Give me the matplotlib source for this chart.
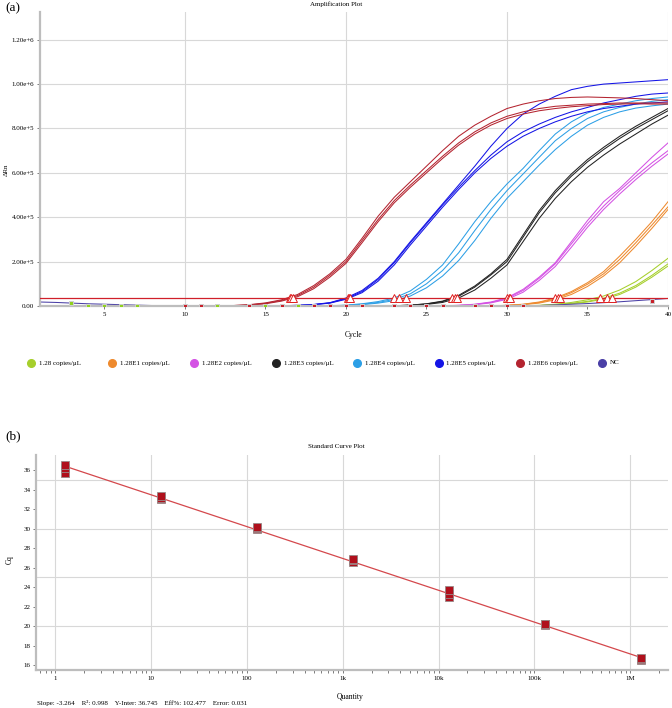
import numpy as np
import matplotlib
matplotlib.use("Agg")
from matplotlib import pyplot as plt
from matplotlib.lines import Line2D

plt.rcParams['font.family'] = ['Liberation Serif', 'DejaVu Serif']

# ---------------- data ----------------
cycles = np.arange(1, 41)

group_labels = ["1.28 copies/\u03bcL", "1.28E1 copies/\u03bcL", "1.28E2 copies/\u03bcL", "1.28E3 copies/\u03bcL",
                "1.28E4 copies/\u03bcL", "1.28E5 copies/\u03bcL", "1.28E6 copies/\u03bcL", "NC"]
group_colors = ["#a6cf2c", "#ee8a2e", "#d452e4", "#222222", "#2c9fe6", "#1414e6", "#b42430", "#4a3fa6"]

# delta Rn in units of 1e5, cycles 1..40, three replicates per standard
e0 = [[0]*30 + [0.01, 0.03, 0.08, 0.16, 0.28, 0.45, 0.72, 1.1, 1.6, 2.15],
      [0]*31 + [0.02, 0.06, 0.12, 0.21, 0.35, 0.58, 0.92, 1.38, 1.9],
      [0]*31 + [0.02, 0.05, 0.10, 0.18, 0.31, 0.52, 0.85, 1.3, 1.8]]
e1 = [[0]*28 + [0.01, 0.03, 0.08, 0.18, 0.36, 0.65, 1.05, 1.55, 2.25, 3.0, 3.8, 4.7],
      [0]*29 + [0.03, 0.07, 0.16, 0.32, 0.60, 0.98, 1.45, 2.1, 2.85, 3.65, 4.47],
      [0]*29 + [0.02, 0.06, 0.13, 0.28, 0.52, 0.88, 1.35, 1.95, 2.7, 3.5, 4.35]]
e2 = [[0]*25 + [0.01, 0.03, 0.08, 0.18, 0.37, 0.75, 1.3, 1.95, 2.9, 3.85, 4.7, 5.3, 6.0, 6.7, 7.35],
      [0]*26 + [0.03, 0.07, 0.16, 0.34, 0.70, 1.25, 1.9, 2.8, 3.7, 4.5, 5.2, 5.85, 6.45, 7.0],
      [0]*26 + [0.02, 0.06, 0.14, 0.30, 0.62, 1.15, 1.78, 2.65, 3.55, 4.35, 5.05, 5.7, 6.3, 6.85]]
e3 = [[0]*22 + [0.01, 0.04, 0.10, 0.22, 0.48, 0.9, 1.45, 2.1, 3.2, 4.3, 5.2, 5.95, 6.6, 7.15, 7.65, 8.1, 8.5, 8.9],
      [0]*22 + [0.01, 0.04, 0.09, 0.20, 0.44, 0.85, 1.4, 2.0, 3.1, 4.2, 5.1, 5.85, 6.5, 7.05, 7.55, 8.0, 8.4, 8.8],
      [0]*23 + [0.03, 0.07, 0.16, 0.36, 0.72, 1.25, 1.85, 2.9, 3.95, 4.85, 5.6, 6.25, 6.8, 7.3, 7.75, 8.2, 8.6]]
e4 = [[0]*18 + [0.01, 0.04, 0.10, 0.20, 0.36, 0.68, 1.2, 1.85, 2.8, 3.8, 4.7, 5.5, 6.2, 7.0, 7.75, 8.3, 8.7, 8.95, 9.1, 9.25, 9.35, 9.42],
      [0]*19 + [0.03, 0.08, 0.16, 0.30, 0.55, 1.0, 1.6, 2.4, 3.4, 4.35, 5.2, 5.95, 6.7, 7.45, 8.0, 8.45, 8.75, 8.95, 9.1, 9.22, 9.3],
      [0]*19 + [0.02, 0.06, 0.13, 0.24, 0.45, 0.82, 1.35, 2.05, 2.95, 3.95, 4.85, 5.6, 6.35, 7.05, 7.65, 8.15, 8.5, 8.75, 8.92, 9.02, 9.1]]
e5 = [[0]*15 + [0.01, 0.03, 0.07, 0.15, 0.36, 0.7, 1.25, 2.0, 2.9, 3.75, 4.6, 5.45, 6.3, 7.2, 8.0, 8.65, 9.1, 9.45, 9.75, 9.9, 10.0, 10.05, 10.1, 10.15, 10.2],
      [0]*15 + [0.01, 0.03, 0.06, 0.14, 0.33, 0.65, 1.2, 1.95, 2.85, 3.7, 4.55, 5.35, 6.1, 6.8, 7.4, 7.85, 8.2, 8.5, 8.75, 8.95, 9.15, 9.3, 9.45, 9.55, 9.6],
      [0]*15 + [0.01, 0.02, 0.06, 0.13, 0.30, 0.6, 1.12, 1.85, 2.75, 3.6, 4.45, 5.25, 6.0, 6.65, 7.2, 7.65, 8.0, 8.3, 8.55, 8.75, 8.9, 9.0, 9.1, 9.15, 9.2]]
e6 = [[0]*12 + [0.02, 0.06, 0.14, 0.28, 0.52, 0.92, 1.45, 2.1, 3.05, 4.05, 4.9, 5.6, 6.3, 7.0, 7.65, 8.15, 8.55, 8.9, 9.1, 9.25, 9.35, 9.4, 9.42, 9.4, 9.38, 9.35, 9.3, 9.25],
      [0]*12 + [0.02, 0.05, 0.12, 0.25, 0.47, 0.85, 1.38, 2.0, 2.95, 3.9, 4.75, 5.45, 6.1, 6.75, 7.35, 7.85, 8.25, 8.55, 8.75, 8.9, 9.0, 9.05, 9.1, 9.12, 9.15, 9.15, 9.15, 9.15],
      [0]*12 + [0.01, 0.04, 0.10, 0.22, 0.42, 0.78, 1.3, 1.92, 2.85, 3.8, 4.65, 5.35, 6.0, 6.65, 7.25, 7.75, 8.15, 8.45, 8.65, 8.8, 8.9, 8.98, 9.03, 9.08, 9.1, 9.12, 9.1, 9.1]]
nc = [[0.18, 0.16, 0.13, 0.10, 0.08, 0.06, 0.04, 0.02, 0.01] + [0]*22 +
       [0.02, 0.05, 0.08, 0.11, 0.15, 0.19, 0.24, 0.29, 0.34]]
curves = [e0, e1, e2, e3, e4, e5, e6, nc]

threshold = 0.35  # x1e5

# Cq per standard (three replicates), shared by both panels
quantity = [1.28, 12.8, 128, 1280, 12800, 128000, 1280000]
cq = [[35.75, 36.2, 36.5],
      [33.0, 33.15, 33.3],
      [30.0, 30.1, 30.2],
      [26.6, 26.75, 26.9],
      [23.0, 23.3, 23.75],
      [20.1, 20.2, 20.25],
      [16.5, 16.6, 16.7]]

# small baseline markers along the x axis
base_cycles = [2.9, 4, 5, 6, 7, 10, 11, 12, 14, 15, 16, 17, 18, 19, 20, 21, 23, 24, 25, 26, 28, 29, 30, 31, 39]
base_values = [0.12, 0, 0, 0, 0, 0, 0, 0, 0, 0, 0, 0, 0, 0, 0, 0, 0, 0, 0, 0, 0, 0, 0, 0, 0.22]
base_colors = ["#8fd11e", "#8fd11e", "#8fd11e", "#8fd11e", "#8fd11e", "#c8202a", "#c8202a", "#8fd11e",
               "#c8202a", "#8fd11e", "#c8202a", "#8fd11e", "#c8202a", "#c8202a", "#c8202a", "#c8202a",
               "#c8202a", "#c8202a", "#c8202a", "#c8202a", "#c8202a", "#c8202a", "#c8202a", "#c8202a", "#c8202a"]

a_yticks = [0, 2, 4, 6, 8, 10, 12]
a_ylabels = ["0.00", "2.00e+5", "4.00e+5", "6.00e+5", "8.00e+5", "1.00e+6", "1.20e+6"]
a_xticks = [5, 10, 15, 20, 25, 30, 35, 40]

b_xticks = [1, 10, 100, 1000, 10000, 100000, 1000000]
b_xlabels = ["1", "10", "100", "1k", "10k", "100k", "1M"]
b_yticks = [16, 18, 20, 22, 24, 26, 28, 30, 32, 34, 36]

slope, intercept = -3.264, 36.745
stats_text = "Slope: -3.264    R\u00b2: 0.998    Y-Inter: 36.745    Eff%: 102.477    Error: 0.031"

# ---------------- figure ----------------
fig = plt.figure(figsize=(6.72, 7.08), dpi=100)
grid_c = "#d8d8d8"
spine_c = "#bdbdbd"


def style_axes(ax):
	for s in ["top", "right"]:
		ax.spines[s].set_visible(False)
	for s in ["left", "bottom"]:
		ax.spines[s].set_color(spine_c)
		ax.spines[s].set_linewidth(1.6)
	ax.tick_params(axis="both", which="both", labelsize=5, color="#666666", width=0.6, length=2.5, pad=1.5)


# panel (a)
ax1 = fig.add_axes([40/672, 1-306/708, 628/672, 294/708])
style_axes(ax1)
for v in [10, 20, 30, 40]:
	ax1.axvline(v, color=grid_c, lw=0.8, zorder=0)
for v in a_yticks[1:]:
	ax1.axhline(v, color=grid_c, lw=0.8, zorder=0)
ax1.axhline(threshold, color="#d0202a", lw=0.9, zorder=3)

for reps, col in zip(curves, group_colors):
	for r in reps:
		ax1.plot(cycles, r, color=col, lw=0.75, zorder=2)

ax1.plot(np.ravel(cq), [threshold]*np.size(cq), ls="none", marker="^", ms=6, mfc="white",
         mec="#e02020", mew=0.7, zorder=4)
for c, v, col in zip(base_cycles, base_values, base_colors):
	ax1.plot(c, v, ls="none", marker="s", ms=3.4, mfc=col, mec="#cfcfcf", mew=0.7, zorder=5)

ax1.set_xlim(1, 40)
ax1.set_ylim(0, 13.25)
ax1.set_xticks(a_xticks)
ax1.set_yticks(a_yticks)
ax1.set_yticklabels(a_ylabels)

fig.text(336/672, 1-4/708, "Amplification Plot", ha="center", va="center", fontsize=5)
fig.text(5/672, 1-8/708, "(a)", ha="left", va="center", fontsize=9.5)
fig.text(6/672, 1-170/708, "\u0394Rn", ha="center", va="center", rotation=90, fontsize=5)
fig.text(354/672, 1-335/708, "Cycle", ha="center", va="center", fontsize=5.5)

# legend row, evenly spaced entries
leg_y = 1 - 363/708
for i, (lab, col) in enumerate(zip(group_labels, group_colors)):
	x0 = (31 + 81.5*i)/672
	fig.add_artist(Line2D([x0], [leg_y], transform=fig.transFigure, ls="none", marker="o",
	                      ms=5.5, mfc=col, mec=col))
	fig.text(x0 + 8/672, leg_y, lab, ha="left", va="center", fontsize=5)

# panel (b)
ax2 = fig.add_axes([36/672, 1-670/708, 632/672, 215/708])
style_axes(ax2)
ax2.set_xscale("log")
for v in b_xticks:
	ax2.axvline(v, color=grid_c, lw=0.8, zorder=0)
for v in [20, 25, 30, 35]:
	ax2.axhline(v, color=grid_c, lw=0.8, zorder=0)

xq = np.array([quantity[0], quantity[-1]])
ax2.plot(xq, intercept + slope*np.log10(xq), color="#d4484c", lw=0.9, zorder=2)
for q, reps in zip(quantity, cq):
	ax2.plot([q]*len(reps), reps, ls="none", marker="s", ms=5.2, mfc="#b0101c", mec="#9a8a8a", mew=0.6, zorder=3)

ax2.set_xlim(0.634, 2.47e6)
ax2.set_ylim(15.52, 37.55)
ax2.set_xticks(b_xticks)
ax2.set_xticklabels(b_xlabels)
ax2.set_yticks(b_yticks)
ax2.xaxis.set_minor_formatter(plt.NullFormatter())
ax2.tick_params(axis="x", which="minor", length=2.5, width=0.6, color="#666666")

fig.text(336/672, 1-447/708, "Standard Curve Plot", ha="center", va="center", fontsize=5)
fig.text(5/672, 1-436/708, "(b)", ha="left", va="center", fontsize=9.5)
fig.text(10/672, 1-560/708, "Cq", ha="center", va="center", rotation=90, fontsize=5.5)
fig.text(350/672, 1-697/708, "Quantity", ha="center", va="center", fontsize=5.5)
fig.text(37/672, 1-703/708, stats_text, ha="left", va="center", fontsize=5)

fig.savefig("out.png", dpi=100)
